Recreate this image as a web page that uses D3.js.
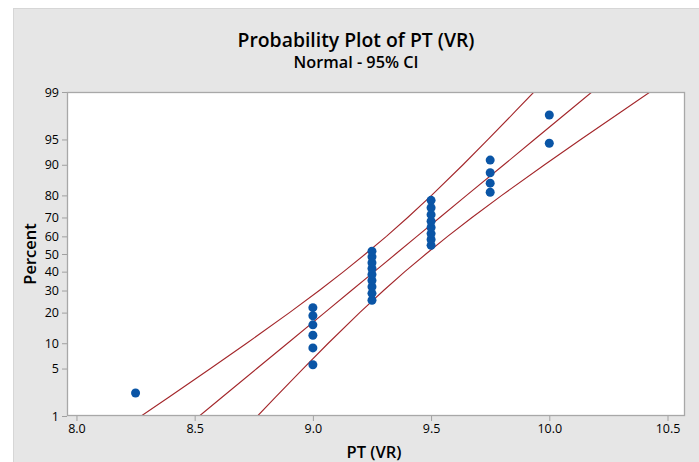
<!DOCTYPE html>
<html>
<head>
<meta charset="utf-8">
<script src="https://cdn.jsdelivr.net/npm/d3@7"></script>
<style>
  html, body { margin: 0; padding: 0; background: #ffffff; }
  svg { display: block; }
  text { font-family: "Open Sans", "Noto Sans", sans-serif; fill: #000; }
</style>
</head>
<body>
<svg id="chart" width="699" height="462"></svg>
<script>
// ---- Data ----
const ptValues = [8.25,
  9.0, 9.0, 9.0, 9.0, 9.0, 9.0,
  9.25, 9.25, 9.25, 9.25, 9.25, 9.25, 9.25, 9.25, 9.25,
  9.5, 9.5, 9.5, 9.5, 9.5, 9.5, 9.5, 9.5,
  9.75, 9.75, 9.75, 9.75,
  10.0, 10.0];
const ptPercents = [2.30,
  5.59, 8.88, 12.17, 15.46, 18.75, 22.04,
  25.33, 28.62, 31.91, 35.20, 38.49, 41.78, 45.07, 48.36, 51.64,
  54.93, 58.22, 61.51, 64.80, 68.09, 71.38, 74.67, 77.96,
  81.25, 84.54, 87.83, 91.12,
  94.41, 97.70];

// Fitted line and 95% confidence band, x value at given percent
const linePercents = [1, 2, 5, 10, 20, 30, 40, 50, 60, 70, 80, 90, 95, 98, 99];
const fitX   = [8.520, 8.617, 8.763, 8.893, 9.050, 9.163, 9.260, 9.350, 9.440, 9.537, 9.650, 9.808, 9.937, 10.083, 10.180];
const lowerX = [8.274, 8.392, 8.567, 8.720, 8.901, 9.027, 9.130, 9.222, 9.311, 9.401, 9.502, 9.635, 9.741, 9.858, 9.935];
const upperX = [8.766, 8.842, 8.959, 9.065, 9.198, 9.299, 9.389, 9.478, 9.570, 9.673, 9.799, 9.980, 10.133, 10.309, 10.426];

const xTicks = [8.0, 8.5, 9.0, 9.5, 10.0, 10.5];
const yTicks = [1, 5, 10, 20, 30, 40, 50, 60, 70, 80, 90, 95, 99];

const titleText = "Probability Plot of PT (VR)";
const subtitleText = "Normal - 95% CI";
const xLabel = "PT (VR)";
const yLabel = "Percent";

// ---- Inverse normal CDF (probability axis transform) ----
function qnorm(p) {
  const a = [-3.969683028665376e+01, 2.209460984245205e+02, -2.759285104469687e+02, 1.383577518672690e+02, -3.066479806614716e+01, 2.506628277459239e+00];
  const b = [-5.447609879822406e+01, 1.615858368580409e+02, -1.556989798598866e+02, 6.680131188771972e+01, -1.328068155288572e+01];
  const c = [-7.784894002430293e-03, -3.223964580411365e-01, -2.400758277161838e+00, -2.549732539343734e+00, 4.374664141464968e+00, 2.938163982698783e+00];
  const d = [7.784695709041462e-03, 3.224671290700398e-01, 2.445134137142996e+00, 3.754408661907416e+00];
  const pl = 0.02425, ph = 1 - pl;
  let q, r;
  if (p < pl) {
    q = Math.sqrt(-2 * Math.log(p));
    return (((((c[0]*q+c[1])*q+c[2])*q+c[3])*q+c[4])*q+c[5]) / ((((d[0]*q+d[1])*q+d[2])*q+d[3])*q+1);
  } else if (p <= ph) {
    q = p - 0.5; r = q*q;
    return (((((a[0]*r+a[1])*r+a[2])*r+a[3])*r+a[4])*r+a[5])*q / (((((b[0]*r+b[1])*r+b[2])*r+b[3])*r+b[4])*r+1);
  } else {
    q = Math.sqrt(-2 * Math.log(1 - p));
    return -(((((c[0]*q+c[1])*q+c[2])*q+c[3])*q+c[4])*q+c[5]) / ((((d[0]*q+d[1])*q+d[2])*q+d[3])*q+1);
  }
}

// ---- Layout ----
const svg = d3.select("#chart");
const W = 699, H = 462;
const plot = { left: 67, right: 685, top: 92, bottom: 416 };

const x = d3.scaleLinear().domain([7.96, 10.574]).range([plot.left, plot.right]);
const zScale = d3.scaleLinear().domain([qnorm(0.01), qnorm(0.99)]).range([plot.bottom, plot.top]);
const y = pct => zScale(qnorm(pct / 100));

// Background panel
svg.append("rect").attr("x", 0).attr("y", 0).attr("width", W).attr("height", H).attr("fill", "#ffffff");
svg.append("rect").attr("x", 13.5).attr("y", 8.5).attr("width", W - 13).attr("height", H - 8)
  .attr("fill", "#e6e6e6").attr("stroke", "#d6d6d6").attr("stroke-width", 1);

// Plot area
svg.append("rect").attr("x", plot.left).attr("y", plot.top)
  .attr("width", plot.right - plot.left).attr("height", plot.bottom - plot.top)
  .attr("fill", "#ffffff");

// Clip
svg.append("clipPath").attr("id", "clip").append("rect")
  .attr("x", plot.left).attr("y", plot.top)
  .attr("width", plot.right - plot.left).attr("height", plot.bottom - plot.top);

// Axes
const xAxis = d3.axisBottom(x).tickValues(xTicks).tickFormat(d3.format(".1f")).tickSize(5).tickPadding(3);
const gx = svg.append("g").attr("transform", `translate(0,${plot.bottom})`).call(xAxis);
const yAxis = d3.axisLeft(zScale).tickValues(yTicks.map(t => qnorm(t / 100)))
  .tickFormat((d, i) => yTicks[i]).tickSize(5).tickPadding(3);
const gy = svg.append("g").attr("transform", `translate(${plot.left},0)`).call(yAxis);
[gx, gy].forEach(g => {
  g.select(".domain").remove();
  g.selectAll(".tick line").attr("stroke", "#a0a0a0");
  g.selectAll(".tick text").attr("font-size", 12.5).attr("fill", "#000")
    .style("font-family", '"Open Sans", "Noto Sans", sans-serif');
});

// Lines
const lineGen = xs => d3.line()
  .x((p, i) => x(xs[i]))
  .y(p => y(p))(linePercents);
const lg = svg.append("g").attr("clip-path", "url(#clip)");
[lowerX, fitX, upperX].forEach(xs => {
  lg.append("path").attr("d", lineGen(xs))
    .attr("fill", "none").attr("stroke", "#a3262a").attr("stroke-width", 1.1);
});

// Points
svg.append("g").selectAll("circle").data(ptValues).join("circle")
  .attr("cx", d => x(d))
  .attr("cy", (d, i) => y(ptPercents[i]))
  .attr("r", 4.5)
  .attr("fill", "#0a55a6");

// Plot border
svg.append("rect").attr("x", plot.left + 0.5).attr("y", plot.top + 0.5)
  .attr("width", plot.right - plot.left - 1).attr("height", plot.bottom - plot.top - 1)
  .attr("fill", "none").attr("stroke", "#a8a8a8").attr("stroke-width", 1.3);

// Titles
svg.append("text").attr("x", 356).attr("y", 47).attr("text-anchor", "middle")
  .attr("font-size", 19).attr("font-weight", 600).attr("textLength", 237).attr("lengthAdjust", "spacingAndGlyphs")
  .text(titleText);
svg.append("text").attr("x", 356).attr("y", 68).attr("text-anchor", "middle")
  .attr("font-size", 15.5).attr("font-weight", 600).attr("textLength", 125).attr("lengthAdjust", "spacingAndGlyphs")
  .text(subtitleText);

// Axis labels
svg.append("text").attr("x", 374).attr("y", 458).attr("text-anchor", "middle")
  .attr("font-size", 16.5).attr("font-weight", 600).text(xLabel);
svg.append("text").attr("transform", "translate(36,254) rotate(-90)").attr("text-anchor", "middle")
  .attr("font-size", 16.5).attr("font-weight", 600).text(yLabel);
</script>
</body>
</html>
